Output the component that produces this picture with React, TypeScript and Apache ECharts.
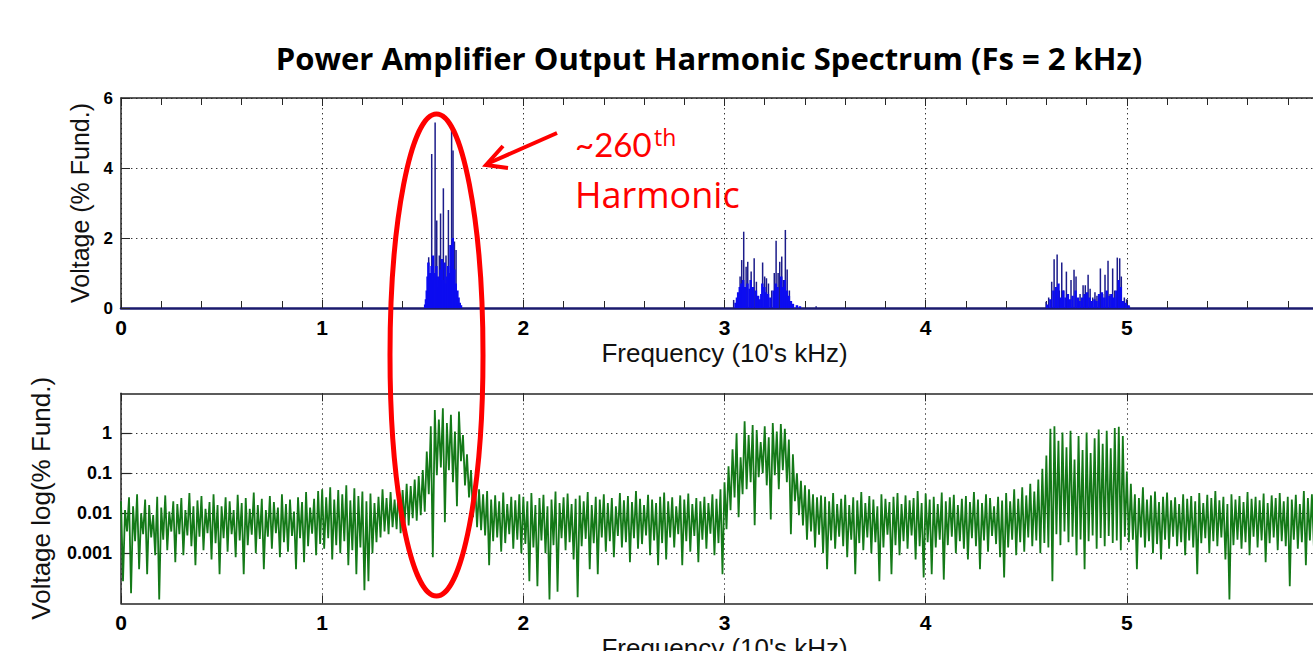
import React, { useEffect, useRef } from "react";
import * as echarts from "echarts";

// ---------- Data ----------
const titleText = "Power Amplifier Output Harmonic Spectrum (Fs = 2 kHz)";
const xAxisName = "Frequency (10's kHz)";
const topYAxisName = "Voltage (% Fund.)";
const bottomYAxisName = "Voltage log(% Fund.)";

// top plot: main harmonic stems (frequency in 10's kHz, voltage in % fund.)
const stemFreqs = [
  1.532, 1.547, 1.564, 1.572, 1.585, 1.591, 1.605, 1.618, 1.63, 1.646, 1.653, 1.66, 1.668, 1.673,
  3.048, 3.072, 3.08, 3.088, 3.098, 3.11, 3.118, 3.135, 3.15, 3.161, 3.192, 3.202, 3.211, 3.221,
  3.237, 3.25, 3.259, 3.269, 3.277, 3.287, 3.295, 3.305, 3.314, 3.325, 3.458,
  4.601, 4.614, 4.629, 4.641, 4.656, 4.667, 4.679, 4.688, 4.702, 4.713, 4.725, 4.74, 4.75, 4.77,
  4.785, 4.796, 4.81, 4.82, 4.833, 4.844, 4.854, 4.871, 4.882, 4.894, 4.909, 4.919, 4.932, 4.942,
  4.955, 4.967, 4.975, 4.99, 5.001, 5.015,
];
const stemValues = [
  1.45, 4.4, 5.3, 2.5, 1.5, 2.7, 3.42, 1.5, 2.8, 5.1, 4.5, 1.9, 1.66, 0.35,
  0.23, 0.35, 0.9, 1.37, 2.18, 1.18, 1.32, 1.04, 1.42, 0.75, 1.3, 0.9, 0.85, 0.7,
  0.5, 1.0, 1.92, 1.0, 1.32, 1.47, 0.8, 2.23, 1.1, 0.5, 0.05,
  0.18, 0.3, 0.75, 1.39, 1.53, 0.5, 1.3, 0.5, 1.04, 0.2, 0.8, 1.09, 0.9, 0.4,
  0.65, 0.65, 0.95, 0.55, 0.3, 0.45, 0.35, 1.13, 0.4, 0.95, 1.35, 0.4, 1.13, 0.5,
  1.44, 1.42, 0.9, 0.3, 0.25, 0.05,
];
// top plot: dense low-level sideband content
const sidebandFreqs = [
  1.512, 1.516, 1.52, 1.524, 1.528, 1.536, 1.54, 1.544, 1.551, 1.555, 1.559, 1.568, 1.576, 1.58,
  1.584, 1.588, 1.595, 1.6, 1.609, 1.613, 1.622, 1.626, 1.634, 1.638, 1.642, 1.649, 1.657, 1.664,
  1.672, 1.678, 1.684, 1.69,
  3.055, 3.062, 3.068, 3.076, 3.084, 3.093, 3.103, 3.114, 3.125, 3.13, 3.142, 3.156, 3.167, 3.175,
  3.183, 3.188, 3.198, 3.206, 3.216, 3.228, 3.244, 3.255, 3.264, 3.282, 3.29, 3.3, 3.31, 3.32,
  3.33, 3.34, 3.36, 3.375,
  4.605, 4.62, 4.635, 4.648, 4.66, 4.672, 4.684, 4.695, 4.707, 4.718, 4.73, 4.745, 4.757, 4.765,
  4.778, 4.79, 4.803, 4.815, 4.827, 4.839, 4.849, 4.862, 4.876, 4.888, 4.9, 4.914, 4.925, 4.937,
  4.948, 4.96, 4.97, 4.982, 4.995, 5.008,
];
const sidebandValues = [
  0.1, 0.25, 0.5, 0.9, 1.3, 1.0, 0.7, 1.2, 1.5, 0.8, 1.0, 1.2, 0.9, 0.6,
  0.8, 1.1, 1.4, 0.8, 1.3, 0.7, 0.9, 1.2, 1.0, 1.8, 1.2, 2.0, 1.1, 0.7,
  0.5, 0.3, 0.15, 0.08,
  0.15, 0.3, 0.45, 0.6, 0.7, 0.8, 0.6, 0.7, 0.55, 0.8, 0.6, 0.5, 0.35, 0.25,
  0.4, 0.7, 0.6, 0.45, 0.4, 0.3, 0.5, 0.7, 0.6, 0.9, 0.6, 0.8, 0.5, 0.35,
  0.2, 0.12, 0.08, 0.05,
  0.1, 0.25, 0.5, 0.6, 0.7, 0.3, 0.5, 0.3, 0.4, 0.25, 0.35, 0.5, 0.3, 0.2,
  0.3, 0.4, 0.45, 0.3, 0.2, 0.25, 0.2, 0.4, 0.45, 0.3, 0.5, 0.35, 0.4, 0.3,
  0.5, 0.8, 0.6, 0.2, 0.15, 0.08,
];

// bottom plot: full spectrum (log scale), one sample every 0.01 (10's kHz) from 0
const spectrumStep = 0.01;
const spectrumValues = [
  .02, .0002, .012, .0035, .025, .0001, .015, .002, .03, .0004,
  .01, .003, .022, .0003, .016, .0025, .009, .0009, .026, .00007,
  .014, .0022, .028, .0012, .011, .0035, .02, .0006, .017, .003,
  .024, .0009, .012, .0028, .032, .0015, .015, .0005, .021, .0026,
  .027, .0012, .013, .0032, .019, .0007, .03, .0018, .016, .0003,
  .015, .0024, .025, .0011, .02, .003, .012, .0008, .029, .0021,
  .018, .0003, .024, .0016, .013, .0029, .033, .001, .016, .0023,
  .023, .0004, .012, .0026, .027, .0013, .019, .0032, .014, .0008,
  .03, .0019, .017, .0011, .022, .0027, .011, .0004, .025, .0024,
  .019, .0006, .034, .0015, .014, .0031, .023, .0009, .036, .0017,
  .04, .0013, .025, .0024, .045, .0007, .022, .0016, .038, .001,
  .03, .002, .05, .0005, .021, .0012, .042, .0003, .027, .0014,
  .035, .00012, .02, .0002, .031, .001, .018, .0019, .026, .0025,
  .04, .0035, .024, .003, .034, .0045, .022, .004, .045, .0032,
  .038, .0055, .055, .005, .048, .0075, .07, .0065, .085, .009,
  .12, .011, .35, .03, 1.5, .0008, 3.8, .09, 2.2, .14,
  4.2, .006, 1.8, .12, 2.9, .06, 1.1, .015, 3.5, .2,
  .9, .05, .3, .025, .12, .008, .06, .0045, .04, .0038,
  .03, .0028, .036, .0005, .022, .002, .028, .0025, .02, .0011,
  .033, .0018, .017, .003, .026, .0013, .021, .0022, .03, .001,
  .026, .0017, .02, .0002, .032, .0014, .016, .00015, .024, .0021,
  .029, .001, .015, .00007, .022, .0016, .035, .00011, .018, .0024,
  .025, .0012, .031, .0019, .017, .0007, .023, .00008, .028, .0015,
  .02, .0023, .034, .0004, .016, .0018, .026, .0003, .022, .0025,
  .03, .0011, .018, .002, .024, .0008, .015, .0027, .032, .0014,
  .021, .0019, .027, .0006, .019, .0024, .036, .0013, .023, .0017,
  .016, .0028, .029, .0009, .022, .0021, .018, .0005, .026, .0018,
  .033, .0007, .02, .0025, .025, .0014, .015, .003, .028, .0005,
  .022, .002, .031, .0011, .017, .0027, .024, .0006, .02, .0022,
  .026, .0013, .018, .0031, .03, .0009, .023, .0018, .04, .0003,
  .06, .004, .15, .012, .4, .025, 1.0, .008, .25, .03,
  2.0, .04, .9, .06, 1.6, .005, 1.2, .08, .6, .1,
  1.5, .05, .8, .007, 1.8, .09, 1.1, .04, 1.7, .12,
  1.3, .06, .7, .003, .3, .02, .1, .009, .065, .005,
  .05, .0022, .04, .0035, .03, .0014, .025, .0029, .028, .001,
  .026, .0004, .02, .0021, .032, .0013, .017, .0026, .023, .0015,
  .029, .0008, .016, .0022, .025, .0003, .021, .0018, .034, .0012,
  .018, .0025, .027, .001, .022, .0019, .015, .0002, .03, .0014,
  .023, .0029, .019, .0003, .026, .0016, .032, .0009, .017, .002,
  .028, .0013, .021, .0028, .024, .0007, .036, .0015, .018, .00025,
  .031, .0019, .022, .0003, .026, .0014, .017, .0022, .033, .00022,
  .02, .0016, .025, .0026, .029, .001, .016, .002, .023, .0013,
  .027, .0007, .019, .0024, .034, .0015, .022, .0004, .018, .0021,
  .03, .0011, .024, .0027, .015, .0017, .026, .0008, .021, .00025,
  .032, .0014, .02, .0022, .04, .0009, .023, .0019, .045, .0011,
  .028, .0025, .055, .0015, .035, .0021, .07, .001, .13, .0018,
  .28, .0014, 1.3, .0002, 1.5, .003, .65, .0016, 1.05, .0035,
  .45, .0019, 1.15, .0026, .22, .0009, .85, .0022, .38, .0004,
  1.05, .002, .32, .0028, .75, .0013, 1.25, .0024, .55, .0015,
  1.15, .0027, .42, .0018, 1.35, .0021, 1.45, .0012, .85, .0026,
  .11, .0019, .055, .0022, .03, .0004, .024, .0025, .045, .0014,
  .022, .002, .028, .001, .035, .0017, .019, .0007, .026, .0022,
  .033, .0013, .021, .0026, .025, .0015, .017, .0019, .03, .0009,
  .023, .0021, .027, .0014, .02, .0003, .032, .0018, .018, .0024,
  .029, .001, .024, .002, .036, .0015, .021, .0025, .026, .0007,
  .017, .00007, .03, .0016, .022, .0022, .027, .0013, .019, .0019,
  .034, .0009, .023, .0026, .026, .0014, .021, .0021, .031, .0006,
  .018, .0018, .028, .0025, .024, .0012, .032, .002, .02, .0015,
  .026, .00015, .022, .0022, .029, .0013, .017, .0019, .036, .0005,
  .024, .0021, .03, .0014,
];

// visible x tick labels (the 6 tick lies beyond the picture's right edge)
const xTickValues = [0, 1, 2, 3, 4, 5];
const xTickLabels = ["0", "1", "2", "3", "4", "5"];
const topYTickLabels = ["0", "2", "4", "6"];
const logTickValues = [0.001, 0.01, 0.1, 1];
const logTickLabels = ["0.001", "0.01", "0.1", "1"];

// ---------- Styles ----------
const AXIS = "#262626";
const GRID_DASH = [1.4, 3.6];
const SANS = "'Liberation Sans', Arial, Helvetica, sans-serif";
const RED = "#ff0000";

const xLabelFmt = (v: number) => {
  const i = xTickValues.findIndex((t) => Math.abs(t - v) < 1e-6);
  return i >= 0 ? xTickLabels[i] : "";
};
const topYFmt = (v: number) => topYTickLabels[Math.round(v / 2)] ?? "";
const logFmt = (v: number) => {
  let best = 0;
  let bd = Infinity;
  logTickValues.forEach((t, i) => {
    const d = Math.abs(Math.log10(v) - Math.log10(t));
    if (d < bd) { bd = d; best = i; }
  });
  return bd < 0.01 ? logTickLabels[best] : "";
};

function buildOption(): echarts.EChartsOption {
  const tickLabel = (size: number, margin: number, fmt: any) => ({
    show: true,
    fontFamily: SANS,
    fontWeight: "bold" as const,
    fontSize: size,
    color: "#000",
    margin,
    formatter: fmt,
  });
  const nameStyle = (size: number) => ({ fontFamily: SANS, fontSize: size, color: "#111" });
  const splitLine = { show: true, lineStyle: { color: "#333", type: GRID_DASH as any, width: 1 } };

  const stems = stemFreqs.map((f, i) => [f, stemValues[i]]);
  const sidebands = sidebandFreqs.map((f, i) => [f, sidebandValues[i]]);
  const spectrum = spectrumValues.map((v, i) => [Number((i * spectrumStep).toFixed(2)), v]);

  return {
    animation: false,
    backgroundColor: "#ffffff",
    grid: [
      { left: 121, right: -15, top: 98, height: 210, outerBoundsMode: "none" } as any,
      { left: 121, right: -15, top: 393.3, height: 210, outerBoundsMode: "none" } as any,
    ],
    xAxis: [
      {
        gridIndex: 0, type: "value", min: 0, max: 6, interval: 1, position: "bottom",
        axisLine: { show: true, onZero: false, lineStyle: { color: "#1a1a6e", width: 2.5 } },
        axisTick: { show: true, inside: true, length: 8, lineStyle: { color: AXIS, width: 1 } },
        minorTick: { show: true, splitNumber: 5, length: 7, lineStyle: { color: AXIS, width: 1 } },
        axisLabel: tickLabel(21, 9, xLabelFmt),
        splitLine,
        name: xAxisName, nameLocation: "middle", nameGap: 32, nameTextStyle: nameStyle(26),
      },
      {
        gridIndex: 0, type: "value", min: 0, max: 6, interval: 1, position: "top",
        axisLine: { show: true, onZero: false, lineStyle: { color: AXIS, width: 1.5 } },
        axisTick: { show: true, inside: true, length: 8, lineStyle: { color: AXIS, width: 1 } },
        minorTick: { show: true, splitNumber: 5, length: 7, lineStyle: { color: AXIS, width: 1 } },
        axisLabel: { show: false },
        splitLine: { show: false },
      },
      {
        gridIndex: 1, type: "value", min: 0, max: 6, interval: 1, position: "bottom",
        axisLine: { show: true, onZero: false, lineStyle: { color: AXIS, width: 1.5 } },
        axisTick: { show: true, inside: true, length: 8, lineStyle: { color: AXIS, width: 1 } },
        axisLabel: tickLabel(21, 9, xLabelFmt),
        splitLine,
        name: xAxisName, nameLocation: "middle", nameGap: 32, nameTextStyle: nameStyle(26),
      },
      {
        gridIndex: 1, type: "value", min: 0, max: 6, interval: 1, position: "top",
        axisLine: { show: true, onZero: false, lineStyle: { color: AXIS, width: 1.5 } },
        axisTick: { show: true, inside: true, length: 8, lineStyle: { color: AXIS, width: 1 } },
        axisLabel: { show: false },
        splitLine: { show: false },
      },
    ],
    yAxis: [
      {
        gridIndex: 0, type: "value", min: 0, max: 6, interval: 2,
        axisLine: { show: true, onZero: false, lineStyle: { color: AXIS, width: 1.5 } },
        axisTick: { show: true, inside: true, length: 9, lineStyle: { color: AXIS, width: 1 } },
        axisLabel: tickLabel(17, 8, topYFmt),
        splitLine,
        name: topYAxisName, nameLocation: "middle", nameGap: 27, nameRotate: 90, nameTextStyle: nameStyle(25),
      },
      {
        gridIndex: 1, type: "log", logBase: 10, min: Math.pow(10, -4.25), max: 10,
        axisLine: { show: true, onZero: false, lineStyle: { color: AXIS, width: 1.5 } },
        axisTick: { show: true, inside: true, length: 10, customValues: logTickValues, lineStyle: { color: AXIS, width: 1.2 } } as any,
        axisLabel: { ...tickLabel(18, 9, logFmt), customValues: logTickValues } as any,
        splitLine,
        name: bottomYAxisName, nameLocation: "middle", nameGap: 67, nameRotate: 90, nameTextStyle: nameStyle(26),
      },
    ],
    series: [
      {
        type: "bar", name: "stems", xAxisIndex: 0, yAxisIndex: 0, data: stems,
        barWidth: 1.5, itemStyle: { color: "#1c1c8a" }, silent: true,
      },
      {
        type: "bar", name: "sidebands", xAxisIndex: 0, yAxisIndex: 0, data: sidebands,
        barWidth: 2.5, barGap: "-100%", itemStyle: { color: "#0c0cf0" }, silent: true,
      },
      {
        type: "line", name: "spectrum", xAxisIndex: 2, yAxisIndex: 1, data: spectrum,
        showSymbol: false, symbol: "none", lineStyle: { color: "#147a18", width: 1.8 }, silent: true,
      },
    ],
    graphic: [
      {
        type: "text", x: 709, y: 58, z: 100,
        style: {
          text: titleText, fontFamily: "'Open Sans', Lato, sans-serif", fontWeight: "bold", fontSize: 31,
          fill: "#000", align: "center", verticalAlign: "middle", textAlign: "center", textVerticalAlign: "middle",
        } as any,
      },
      {
        type: "ellipse", z: 100,
        shape: { cx: 436.5, cy: 355, rx: 46.5, ry: 241 },
        style: { fill: "none", stroke: RED, lineWidth: 5 },
      },
      {
        type: "line", z: 100,
        shape: { x1: 557, y1: 133, x2: 489, y2: 163 },
        style: { stroke: RED, lineWidth: 4 },
      },
      {
        type: "polyline", z: 100,
        shape: { points: [[503, 146], [486, 165], [508, 168]] },
        style: { stroke: RED, lineWidth: 4, fill: "none", lineJoin: "miter" } as any,
      },
      {
        type: "text", x: 575, y: 144, z: 100,
        style: {
          text: "~260", fontFamily: "Lato, sans-serif", fontSize: 33, fill: RED,
          align: "left", verticalAlign: "middle", textAlign: "left", textVerticalAlign: "middle",
        } as any,
      },
      {
        type: "text", x: 654, y: 137, z: 100,
        style: {
          text: "th", fontFamily: "'Open Sans', Lato, sans-serif", fontSize: 23, fill: RED,
          align: "left", verticalAlign: "middle", textAlign: "left", textVerticalAlign: "middle",
        } as any,
      },
      {
        type: "text", x: 575, y: 194, z: 100,
        style: {
          text: "Harmonic", fontFamily: "'Open Sans', Lato, sans-serif", fontSize: 36, fill: RED,
          align: "left", verticalAlign: "middle", textAlign: "left", textVerticalAlign: "middle",
        } as any,
      },
    ],
  };
}

export default function App() {
  const ref = useRef<HTMLDivElement>(null);
  useEffect(() => {
    if (!ref.current) return;
    const chart = echarts.init(ref.current, undefined, { renderer: "svg" });
    chart.setOption(buildOption());
    return () => chart.dispose();
  }, []);
  return (
    <div
      ref={ref}
      style={{ position: "absolute", left: 0, top: 0, width: 1313, height: 651, background: "#fff", overflow: "hidden" }}
    />
  );
}
